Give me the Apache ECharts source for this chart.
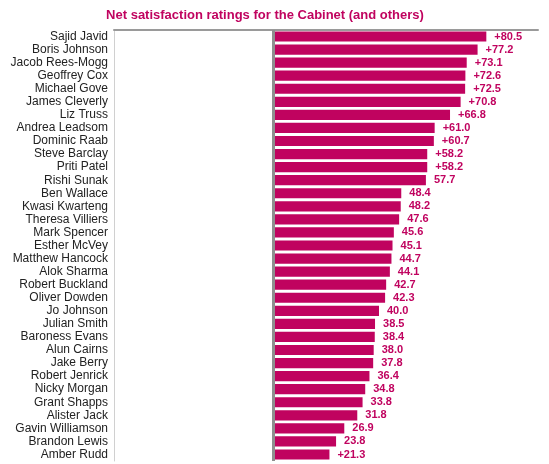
<!DOCTYPE html>
<html>
<head>
<meta charset="utf-8">
<script src="https://cdn.jsdelivr.net/npm/echarts@6/dist/echarts.min.js"></script>
<style>
  html, body { margin: 0; padding: 0; background: #fff; }
  #chart { width: 549px; height: 464px; }
</style>
</head>
<body>
<div id="chart"></div>
<script>
// names top to bottom
var names = ['Sajid Javid', 'Boris Johnson', 'Jacob Rees-Mogg', 'Geoffrey Cox', 'Michael Gove',
  'James Cleverly', 'Liz Truss', 'Andrea Leadsom', 'Dominic Raab', 'Steve Barclay', 'Priti Patel',
  'Rishi Sunak', 'Ben Wallace', 'Kwasi Kwarteng', 'Theresa Villiers', 'Mark Spencer', 'Esther McVey',
  'Matthew Hancock', 'Alok Sharma', 'Robert Buckland', 'Oliver Dowden', 'Jo Johnson', 'Julian Smith',
  'Baroness Evans', 'Alun Cairns', 'Jake Berry', 'Robert Jenrick', 'Nicky Morgan', 'Grant Shapps',
  'Alister Jack', 'Gavin Williamson', 'Brandon Lewis', 'Amber Rudd'];
var ratings = [80.5, 77.2, 73.1, 72.6, 72.5, 70.8, 66.8, 61.0, 60.7, 58.2, 58.2, 57.7, 48.4, 48.2,
  47.6, 45.6, 45.1, 44.7, 44.1, 42.7, 42.3, 40.0, 38.5, 38.4, 38.0, 37.8, 36.4, 34.8, 33.8, 31.8,
  26.9, 23.8, 21.3];
// which labels carry a "+" sign in the original
var withPlus = ['Sajid Javid', 'Boris Johnson', 'Jacob Rees-Mogg', 'Geoffrey Cox', 'Michael Gove',
  'James Cleverly', 'Liz Truss', 'Andrea Leadsom', 'Dominic Raab', 'Steve Barclay', 'Priti Patel',
  'Amber Rudd'];

var magenta = '#c0035f';
var myChart = echarts.init(document.getElementById('chart'));

var option = {
  animation: false,
  textStyle: { fontFamily: 'Liberation Sans, Arial, sans-serif' },
  title: {
    text: 'Net satisfaction ratings for the Cabinet (and others)',
    left: 260,
    textAlign: 'center',
    top: 4,
    textStyle: { color: magenta, fontSize: 13, fontWeight: 'bold' }
  },
  grid: { left: 114, right: 11, top: 30, bottom: 3 },
  xAxis: {
    type: 'value',
    position: 'top',
    min: -60,
    max: 100,
    axisLine: { show: true, lineStyle: { color: '#9a9a9a', width: 2 } },
    axisTick: { show: false },
    axisLabel: { show: false },
    splitLine: { show: false }
  },
  yAxis: {
    type: 'category',
    inverse: true,
    data: names,
    axisLine: { show: true, onZero: false, lineStyle: { color: '#d0d0d0', width: 1 } },
    axisTick: { show: false },
    axisLabel: { color: '#222', fontSize: 12, margin: 6, interval: 0 }
  },
  series: [{
    type: 'bar',
    data: ratings,
    barCategoryGap: '22%',
    itemStyle: { color: magenta },
    label: {
      show: true,
      position: 'right',
      distance: 8,
      color: magenta,
      fontSize: 11,
      fontWeight: 'bold',
      formatter: function (p) {
        return (withPlus.indexOf(p.name) >= 0 ? '+' : '') + p.value.toFixed(1);
      }
    },
    markLine: {
      silent: true,
      symbol: 'none',
      label: { show: false },
      lineStyle: { color: '#8f8f8f', width: 3, type: 'solid' },
      data: [{ xAxis: 0 }]
    }
  }]
};
myChart.setOption(option);
</script>
</body>
</html>
